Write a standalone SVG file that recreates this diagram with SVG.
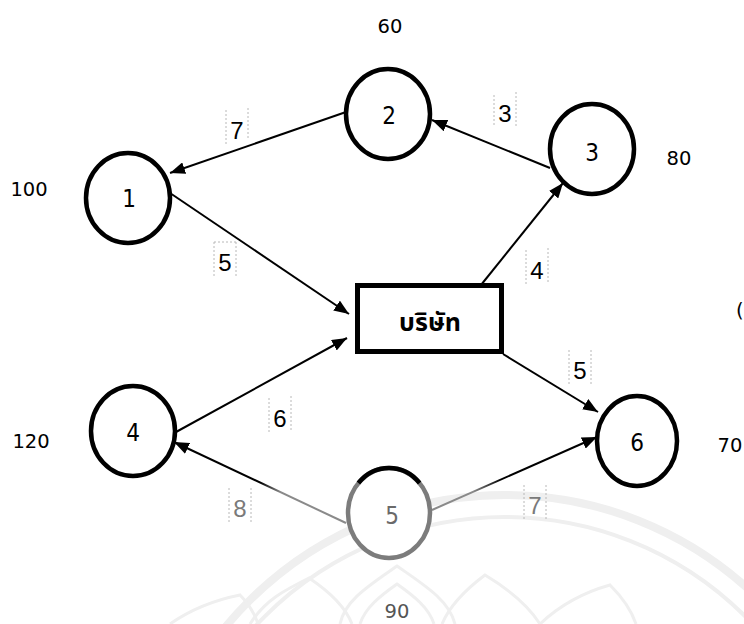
<svg xmlns="http://www.w3.org/2000/svg" width="744" height="624" viewBox="0 0 744 624">
  <defs>
    <marker id="arrow" markerUnits="userSpaceOnUse" markerWidth="16" markerHeight="12" refX="15" refY="6" orient="auto">
      <path d="M0,0 L15,6 L0,12 z" fill="#000"/>
    </marker>
    <linearGradient id="fade54" gradientUnits="userSpaceOnUse" x1="346" y1="523" x2="174" y2="442">
      <stop offset="0" stop-color="#8a8a8a"/>
      <stop offset="0.38" stop-color="#8a8a8a"/>
      <stop offset="0.5" stop-color="#000"/>
      <stop offset="1" stop-color="#000"/>
    </linearGradient>
    <linearGradient id="fade56" gradientUnits="userSpaceOnUse" x1="432" y1="510" x2="597" y2="437">
      <stop offset="0" stop-color="#8a8a8a"/>
      <stop offset="0.25" stop-color="#8a8a8a"/>
      <stop offset="0.42" stop-color="#000"/>
      <stop offset="1" stop-color="#000"/>
    </linearGradient>
  </defs>
  <style>
    .node ellipse { fill: #fff; stroke: #000; stroke-width: 4.5; }
    .num { font-family: "DejaVu Sans Condensed", "DejaVu Sans", sans-serif; font-size: 24px; text-anchor: middle; fill: #000; }
    .edge { stroke: #000; stroke-width: 2; fill: none; marker-end: url(#arrow); }
    .lbl { font-family: "Liberation Sans", Arial, sans-serif; font-size: 24px; text-anchor: middle; fill: #000; }
    .frame { fill: none; stroke: #b8b8b8; stroke-width: 1; stroke-dasharray: 2 2; }
    .val { font-family: "DejaVu Sans", sans-serif; font-size: 19.5px; text-anchor: middle; fill: #000; }
    .mark { fill: none; stroke: #efefef; }
  </style>

  <rect width="744" height="624" fill="#fff"/>

  <!-- faint seal in the lower part of the page -->
  <g id="seal">
    <circle class="mark" cx="505" cy="857" r="362" stroke-width="8"/>
    <circle class="mark" cx="505" cy="857" r="340" stroke-width="4"/>
    <path class="mark" stroke-width="3" d="M340,624 C345,600 370,585 397,566 C424,585 449,600 455,624"/>
    <path class="mark" stroke-width="3" d="M360,624 C365,608 380,596 397,584 C414,596 429,608 434,624"/>
    <path class="mark" stroke-width="3" d="M250,624 C265,600 285,590 309,578 C330,592 345,606 352,624"/>
    <path class="mark" stroke-width="3" d="M442,624 C450,605 465,590 485,575 C510,590 528,605 540,624"/>
    <path class="mark" stroke-width="3" d="M540,624 C560,605 585,592 610,585 C625,600 632,612 636,624"/>
    <path class="mark" stroke-width="3" d="M170,624 C190,610 215,600 240,595 C250,605 255,615 258,624"/>
  </g>

  <!-- connectors -->
  <g id="connectors">
    <line class="edge" x1="346" y1="112" x2="170" y2="173"/>
    <line class="edge" x1="550" y1="168" x2="432" y2="120"/>
    <line class="edge" x1="481" y1="285" x2="563" y2="183"/>
    <line class="edge" x1="170" y1="193" x2="349" y2="314"/>
    <line class="edge" x1="176" y1="432" x2="347" y2="338"/>
    <line class="edge" x1="503" y1="354" x2="598" y2="412"/>
    <line class="edge" x1="346" y1="523" x2="174" y2="442" style="stroke:url(#fade54)"/>
    <line class="edge" x1="432" y1="510" x2="597" y2="437" style="stroke:url(#fade56)"/>

    <!-- edge weights, each in a dotted frame -->
    <path class="frame" d="M226,110 v34 M248,108 v32"/>
    <text class="lbl" x="237" y="139">7</text>
    <path class="frame" d="M214,242 v34 M236,242 v34 M214,242 h22"/>
    <text class="lbl" x="225" y="271">5</text>
    <path class="frame" d="M494,95 v32 M516,92 v34"/>
    <text class="lbl" x="505" y="122">3</text>
    <path class="frame" d="M526,250 v34 M548,248 v34"/>
    <text class="lbl" x="537" y="279">4</text>
    <path class="frame" d="M569,350 v34 M591,350 v34"/>
    <text class="lbl" x="580" y="379">5</text>
    <path class="frame" d="M269,398 v34 M291,396 v34"/>
    <text class="lbl" x="280" y="427">6</text>
    <path class="frame" d="M229,488 v34 M251,488 v34"/>
    <text class="lbl" x="240" y="517" style="fill:#7a7a7a">8</text>
    <path class="frame" d="M524,485 v34 M546,485 v34"/>
    <text class="lbl" x="535" y="514" style="fill:#7a7a7a">7</text>
  </g>

  <!-- nodes -->
  <g id="node1" class="node">
    <ellipse cx="128" cy="198" rx="42" ry="45"/>
    <text class="num" x="129" y="207">1</text>
  </g>
  <g id="node2" class="node">
    <ellipse cx="388" cy="114" rx="42" ry="45"/>
    <text class="num" x="389" y="124">2</text>
  </g>
  <g id="node3" class="node">
    <ellipse cx="592" cy="149" rx="42" ry="45"/>
    <text class="num" x="592" y="161">3</text>
  </g>
  <g id="node4" class="node">
    <ellipse cx="133" cy="431" rx="42" ry="45"/>
    <text class="num" x="133" y="441">4</text>
  </g>
  <g id="node5" class="node">
    <ellipse cx="389" cy="513" rx="41" ry="45" style="stroke:#7c7c7c"/>
    <path d="M358.4,483 A41,45 0 0 1 419.6,483" fill="none" stroke="#000" stroke-width="4.5"/>
    <text class="num" x="392" y="524" style="fill:#6a6a6a">5</text>
  </g>
  <g id="node6" class="node">
    <ellipse cx="637" cy="441" rx="40" ry="45"/>
    <text class="num" x="637" y="451">6</text>
  </g>
  <g id="company">
    <rect x="357.5" y="285.5" width="144" height="66" fill="#fff" stroke="#000" stroke-width="5"/>
    <text x="430" y="331" font-family="'Noto Sans Thai','Noto Sans','DejaVu Sans',sans-serif" font-size="25" font-weight="bold" text-anchor="middle">บริษัท</text>
  </g>

  <!-- supply / demand values -->
  <g id="values">
    <text class="val" x="390" y="33">60</text>
    <text class="val" x="679" y="165">80</text>
    <text class="val" x="29" y="196">100</text>
    <text class="val" x="31" y="448">120</text>
    <text class="val" x="730" y="452">70</text>
    <text class="val" x="397" y="618" style="fill:#555">90</text>
    <text class="val" x="736" y="317" style="text-anchor:start">(</text>
  </g>
</svg>
